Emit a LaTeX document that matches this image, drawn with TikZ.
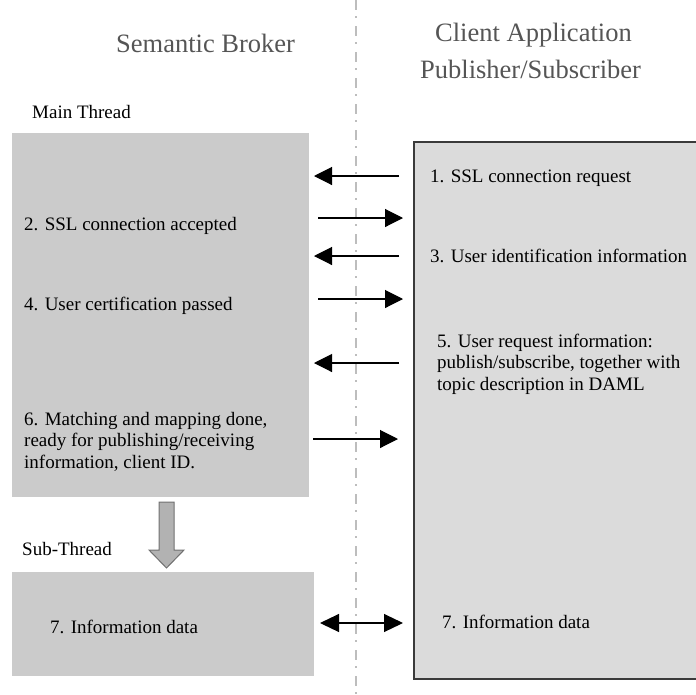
\documentclass[tikz,border=0pt]{standalone}
\usepackage{fontspec}
\setmainfont{Liberation Serif}
\usetikzlibrary{arrows.meta}
\definecolor{maingray}{HTML}{CBCBCB}
\definecolor{clientgray}{HTML}{DBDBDB}
\definecolor{titlegray}{HTML}{555555}
\definecolor{dividergray}{HTML}{BDBDBD}
\definecolor{blockfill}{HTML}{B2B2B2}
\definecolor{blockedge}{HTML}{707070}
\definecolor{boxedge}{HTML}{3A3A3A}
\begin{document}
\begin{tikzpicture}[x=1pt,y=-1pt,
  titletext/.style={anchor=base west, inner sep=0pt, font=\fontsize{26.5}{30}\selectfont, text=titlegray},
  bodytext/.style={anchor=base west, inner sep=0pt, font=\fontsize{19}{21.5}\selectfont, align=left},
  panel/.style={anchor=north west, inner sep=0pt, outer sep=0pt},
  msg/.style={line width=1.1pt, -{Triangle[length=18pt,width=18pt]}},
  duplex/.style={line width=1.1pt, {Triangle[length=19pt,width=18pt]}-{Triangle[length=19pt,width=18pt]}},
  divider/.style={draw=dividergray, line width=2.6pt, dash pattern=on 10pt off 6pt on 1.6pt off 8.4pt}
]
\useasboundingbox (0,0) rectangle (696,694);

% panels
\node[panel, fill=maingray, minimum width=297pt, minimum height=364pt] (main) at (12,133) {};
\node[panel, fill=maingray, minimum width=302pt, minimum height=104pt] (sub) at (12,572) {};
\node[panel, fill=clientgray, minimum width=284pt, minimum height=537pt] (client) at (414,142) {};
\draw[boxedge, line width=1.6pt] (client.north east) -- (client.north west) -- (client.south west) -- (client.south east);

% divider between broker and client
\draw[divider] (356,0) -- (356,694);

% headings
\node[titletext] (broker) at (116,52) {Semantic Broker};
\node[titletext] (clientapp) at (435,41) {Client Application};
\node[titletext] (pubsub) at (420,78) {Publisher/Subscriber};
\node[bodytext] (mainlbl) at (32,118) {Main Thread};
\node[bodytext] (sublbl) at (22,555) {Sub-Thread};

% broker side messages (multi-line nodes sit on the baseline of their last line)
\node[bodytext] (m2) at (24,230) {2. SSL connection accepted};
\node[bodytext] (m4) at (24,310) {4. User certification passed};
\node[bodytext] (m6) at (24,468) {6. Matching and mapping done,\\ready for publishing/receiving\\information, client ID.};
\node[bodytext] (m7b) at (50,633) {7. Information data};

% client side messages
\node[bodytext] (m1) at (430,182) {1. SSL connection request};
\node[bodytext] (m3) at (430,262) {3. User identification information};
\node[bodytext] (m5) at (437,390) {5. User request information:\\publish/subscribe, together with\\topic description in DAML};
\node[bodytext] (m7c) at (442,628) {7. Information data};

% arrow end points
\coordinate (c1) at (399,176); \coordinate (b1) at (314,176);
\coordinate (b2) at (318,218); \coordinate (c2) at (403,218);
\coordinate (c3) at (399,256); \coordinate (b3) at (314,256);
\coordinate (b4) at (318,299); \coordinate (c4) at (403,299);
\coordinate (c5) at (399,363); \coordinate (b5) at (314,363);
\coordinate (b6) at (313,439); \coordinate (c6) at (398,439);
\coordinate (b7) at (320,623); \coordinate (c7) at (403,623);

\draw[msg] (c1) -- (b1);
\draw[msg] (b2) -- (c2);
\draw[msg] (c3) -- (b3);
\draw[msg] (b4) -- (c4);
\draw[msg] (c5) -- (b5);
\draw[msg] (b6) -- (c6);
\draw[duplex] (b7) -- (c7);

% spawn of the sub-thread
\filldraw[fill=blockfill, draw=blockedge, line width=1pt]
  (159,502) -- (174,502) -- (174,550) -- (184,550) -- (166.5,568) -- (149,550) -- (159,550) -- cycle;
\end{tikzpicture}
\end{document}
